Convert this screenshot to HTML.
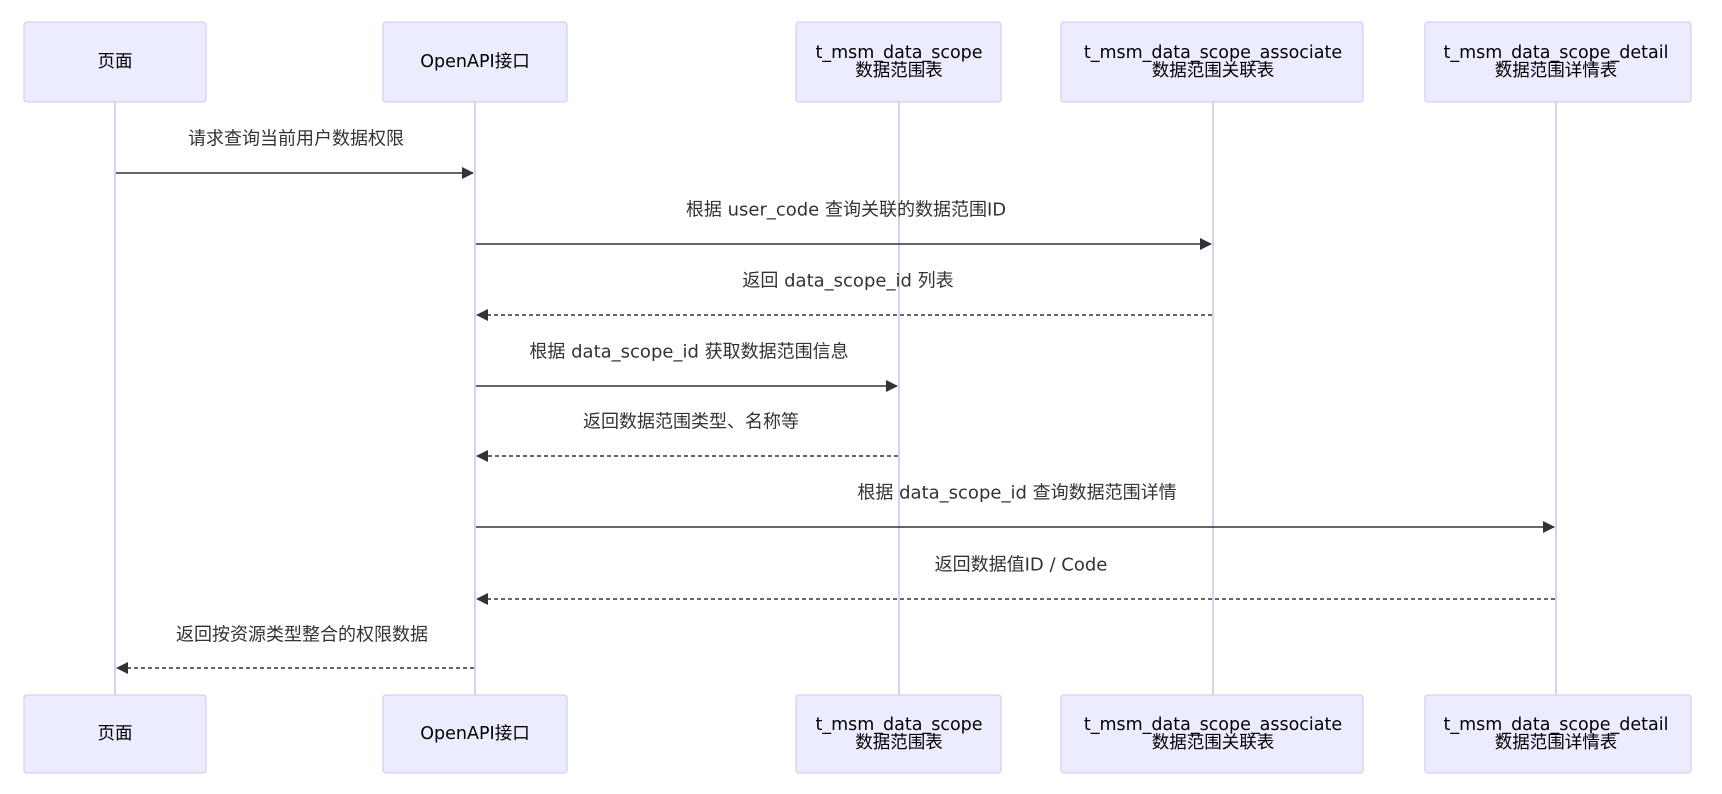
<!DOCTYPE html>
<html><head><meta charset="utf-8"><style>
body{margin:0;background:#fff}
svg text{font-family:"DejaVu Sans","Noto Sans CJK SC",sans-serif;font-size:18px;text-anchor:middle;dominant-baseline:central;fill:#333}
svg text.t{font-size:17.5px;fill:#000}
.b{fill:#ececff;stroke:#d6d0f5;stroke-width:1.3}
.l{stroke:#d6d0f5;stroke-width:2}
.m{stroke:#333;stroke-width:1.6;fill:none}
.d{stroke-dasharray:4 3}
</style></head><body>
<svg width="1722" height="789" xmlns="http://www.w3.org/2000/svg">
<defs><marker id="a" markerWidth="12" markerHeight="12" refX="11" refY="6" orient="auto" markerUnits="userSpaceOnUse"><path d="M0,0 L12,6 L0,12 z" fill="#333"/></marker></defs>
<g class="l"><line x1="115" y1="102" x2="115" y2="695"/><line x1="475" y1="102" x2="475" y2="695"/><line x1="899" y1="102" x2="899" y2="695"/><line x1="1213" y1="102" x2="1213" y2="695"/><line x1="1556" y1="102" x2="1556" y2="695"/></g>
<g>
<rect class="b" x="24" y="22" width="182" height="80" rx="3"/><text class="t" x="115" y="62">页面</text>
<rect class="b" x="383" y="22" width="184" height="80" rx="3"/><text class="t" x="475" y="62">OpenAPI接口</text>
<rect class="b" x="796" y="22" width="205" height="80" rx="3"/><text class="t" x="899" y="53">t_msm_data_scope</text><text class="t" x="899" y="71">数据范围表</text>
<rect class="b" x="1061" y="22" width="302" height="80" rx="3"/><text class="t" x="1213" y="53">t_msm_data_scope_associate</text><text class="t" x="1213" y="71">数据范围关联表</text>
<rect class="b" x="1425" y="22" width="266" height="80" rx="3"/><text class="t" x="1556" y="53">t_msm_data_scope_detail</text><text class="t" x="1556" y="71">数据范围详情表</text>
</g>
<g>
<rect class="b" x="24" y="695" width="182" height="78" rx="3"/><text class="t" x="115" y="734">页面</text>
<rect class="b" x="383" y="695" width="184" height="78" rx="3"/><text class="t" x="475" y="734">OpenAPI接口</text>
<rect class="b" x="796" y="695" width="205" height="78" rx="3"/><text class="t" x="899" y="725">t_msm_data_scope</text><text class="t" x="899" y="743">数据范围表</text>
<rect class="b" x="1061" y="695" width="302" height="78" rx="3"/><text class="t" x="1213" y="725">t_msm_data_scope_associate</text><text class="t" x="1213" y="743">数据范围关联表</text>
<rect class="b" x="1425" y="695" width="266" height="78" rx="3"/><text class="t" x="1556" y="725">t_msm_data_scope_detail</text><text class="t" x="1556" y="743">数据范围详情表</text>
</g>
<text x="296" y="139">请求查询当前用户数据权限</text>
<line class="m" x1="116" y1="173" x2="473" y2="173" marker-end="url(#a)"/>
<text x="846" y="210">根据 user_code 查询关联的数据范围ID</text>
<line class="m" x1="476" y1="244" x2="1211" y2="244" marker-end="url(#a)"/>
<text x="848" y="281">返回 data_scope_id 列表</text>
<line class="m d" x1="1212" y1="315" x2="477" y2="315" marker-end="url(#a)"/>
<text x="689" y="352">根据 data_scope_id 获取数据范围信息</text>
<line class="m" x1="476" y1="386" x2="897" y2="386" marker-end="url(#a)"/>
<text x="691" y="422">返回数据范围类型、名称等</text>
<line class="m d" x1="898" y1="456" x2="477" y2="456" marker-end="url(#a)"/>
<text x="1017" y="493">根据 data_scope_id 查询数据范围详情</text>
<line class="m" x1="476" y1="527" x2="1554" y2="527" marker-end="url(#a)"/>
<text x="1021" y="565">返回数据值ID / Code</text>
<line class="m d" x1="1555" y1="599" x2="477" y2="599" marker-end="url(#a)"/>
<text x="302" y="635">返回按资源类型整合的权限数据</text>
<line class="m d" x1="474" y1="668" x2="117" y2="668" marker-end="url(#a)"/>
</svg>
</body></html>
